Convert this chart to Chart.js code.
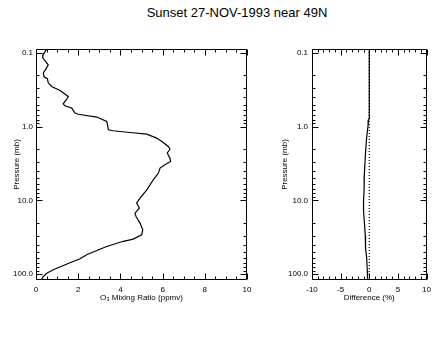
<!DOCTYPE html>
<html>
<head>
<meta charset="utf-8">
<script src="https://cdn.jsdelivr.net/npm/chart.js@4"></script>
<style>
  body { margin: 0; background: #fff; width: 436px; height: 339px; position: relative; overflow: hidden;
         font-family: "Liberation Sans", Arial, sans-serif; }
  #title { position: absolute; left: 0; top: 5px; width: 474px; text-align: center; font-size: 13px; color: #000; }
  .box { position: absolute; top: 0; height: 339px; }
</style>
</head>
<body>
<div id="title">Sunset 27-NOV-1993 near 49N</div>
<div class="box" style="left:0;width:260px"><canvas id="ozone"></canvas></div>
<div class="box" style="left:260px;width:176px"><canvas id="diff"></canvas></div>
<script>
// ozone profile: pressure (mb) and O3 mixing ratio (ppmv)
const pressure = [0.088, 0.1055, 0.116, 0.144, 0.164, 0.185, 0.210, 0.223, 0.253, 0.284, 0.322, 0.388, 0.417,
  0.488, 0.519, 0.557, 0.652, 0.676, 0.738, 0.847, 0.939, 1.099, 1.133, 1.195, 1.256, 1.423, 1.582, 1.85,
  2.02, 2.27, 2.66, 2.96, 3.28, 3.63, 4.25, 5.24, 7.16, 9.27, 10.84, 12.68, 14.83, 16.49, 20.27, 24.99,
  29.2, 33.4, 35.8, 42.1, 45.9, 54.6, 61.8, 70.0, 87.1, 97.2, 108.4, 119];
const ozone = [0.51, 0.33, 0.32, 0.58, 0.47, 0.35, 0.38, 0.54, 0.58, 0.74, 1.14, 1.53, 1.47,
  1.29, 1.37, 1.69, 1.85, 2.0, 2.88, 3.35, 3.39, 3.43, 3.65, 4.45, 5.25, 5.72, 5.97, 6.27,
  6.35, 6.22, 6.35, 6.38, 6.11, 5.88, 5.80, 5.56, 5.25, 4.93, 4.77, 4.90, 4.69, 4.74, 4.93, 5.06,
  5.01, 4.61, 4.14, 3.35, 3.03, 2.40, 2.09, 1.61, 0.82, 0.51, 0.33, 0.27];

// percent difference profile
const diffPressure = [0.088, 0.75, 0.8, 0.95, 1.1, 1.5, 2.6, 4.6, 7.0, 10.0, 14.0, 20.0, 30.0, 45.0, 60.0, 90.0, 120];
const diffPct = [0, 0, -0.1, -0.2, -0.3, -0.5, -0.7, -0.87, -0.9, -1.0, -1.0, -0.85, -0.7, -0.65, -0.45, -0.35, -0.3];
const zeroPressure = [0.088, 120];
const zeroPct = [0, 0];

const pressureRange = [0.088, 120];
const pressureTicks = [0.1, 1, 10, 100];
const ozoneTicks = [0, 2, 4, 6, 8, 10];
const diffTicks = [-10, -5, 0, 5, 10];

const tickFont = { family: '"Liberation Sans", Arial, sans-serif', size: 8 };

// frame + inward tick marks in the style of the old plotting package
const boxTicks = {
  id: 'boxTicks',
  afterDraw(chart, args, opts) {
    const { ctx, chartArea: a, scales: { x, y } } = chart;
    const L = Math.round(a.left) + 0.5, R = Math.round(a.right) - 0.5;
    const T = Math.round(a.top) + 0.5, B = Math.round(a.bottom) - 0.5;
    ctx.save();
    ctx.strokeStyle = '#000';
    ctx.lineWidth = 1;
    ctx.beginPath();
    ctx.rect(L, T, R - L, B - T);
    for (let v = x.min; v <= x.max + 1e-9; v += opts.xMinor) {
      const px = Math.round(x.getPixelForValue(v)) + 0.5;
      const len = opts.xMajor.some(m => Math.abs(m - v) < 1e-6) ? 6 : 3;
      ctx.moveTo(px, B); ctx.lineTo(px, B - len);
      ctx.moveTo(px, T); ctx.lineTo(px, T + len);
    }
    pressureTicks.forEach(d => {
      for (let k = 1; k <= 9; k++) {
        const v = d * k;
        if (v < y.min || v > y.max) continue;
        const py = Math.round(y.getPixelForValue(v)) + 0.5;
        const len = k === 1 ? 6 : 3;
        ctx.moveTo(L, py); ctx.lineTo(L + len, py);
        ctx.moveTo(R, py); ctx.lineTo(R - len, py);
      }
    });
    ctx.stroke();
    ctx.restore();
  }
};

function pressureAxis(width, labelPad, titlePad) {
  return {
    type: 'logarithmic',
    reverse: true,
    min: pressureRange[0],
    max: pressureRange[1],
    afterBuildTicks: s => { s.ticks = pressureTicks.map(v => ({ value: v })); },
    afterFit: s => { s.width = width; },
    grid: { display: false, drawTicks: false },
    border: { display: false },
    ticks: { autoSkip: false, padding: labelPad, color: '#000', font: tickFont,
             callback: v => Number(v).toFixed(1) },
    title: { display: true, text: 'Pressure (mb)', color: '#000', font: tickFont,
             padding: { top: titlePad, bottom: 0 } }
  };
}

function valueAxis(min, max, ticks, title) {
  return {
    type: 'linear',
    min: min,
    max: max,
    afterBuildTicks: s => { s.ticks = ticks.map(v => ({ value: v })); },
    afterFit: s => { s.height = 59; },
    grid: { display: false, drawTicks: false },
    border: { display: false },
    ticks: { autoSkip: false, maxRotation: 0, padding: 5, color: '#000', font: tickFont },
    title: { display: true, text: title, color: '#000', font: tickFont,
             padding: { top: 0, bottom: 36 } }
  };
}

function line(xs, ys, dash) {
  return {
    data: ys.map((p, i) => ({ x: xs[i], y: p })),
    showLine: true,
    borderColor: '#000',
    borderWidth: 1.2,
    borderDash: dash || [],
    pointRadius: 0,
    tension: 0
  };
}

const common = {
  responsive: true,
  maintainAspectRatio: false,
  animation: false,
  devicePixelRatio: 1,
  plugins: { legend: { display: false }, tooltip: { enabled: false } }
};

new Chart(document.getElementById('ozone'), {
  type: 'scatter',
  data: { datasets: [line(ozone, pressure)] },
  options: Object.assign({}, common, {
    layout: { padding: { left: 0, right: 13, top: 49, bottom: 0 } },
    scales: {
      x: valueAxis(0, 10, ozoneTicks, 'O\u2083 Mixing Ratio (ppmv)'),
      y: pressureAxis(36, 3, 12)
    },
    plugins: Object.assign({}, common.plugins, { boxTicks: { xMinor: 0.5, xMajor: ozoneTicks } })
  }),
  plugins: [boxTicks]
});

new Chart(document.getElementById('diff'), {
  type: 'scatter',
  data: { datasets: [line(diffPct, diffPressure), line(zeroPct, zeroPressure, [1, 2])] },
  options: Object.assign({}, common, {
    layout: { padding: { left: 0, right: 9, top: 49, bottom: 0 } },
    scales: {
      x: valueAxis(-10, 10, diffTicks, 'Difference (%)'),
      y: pressureAxis(52, 4, 20)
    },
    plugins: Object.assign({}, common.plugins, { boxTicks: { xMinor: 1, xMajor: diffTicks } })
  }),
  plugins: [boxTicks]
});
</script>
</body>
</html>
